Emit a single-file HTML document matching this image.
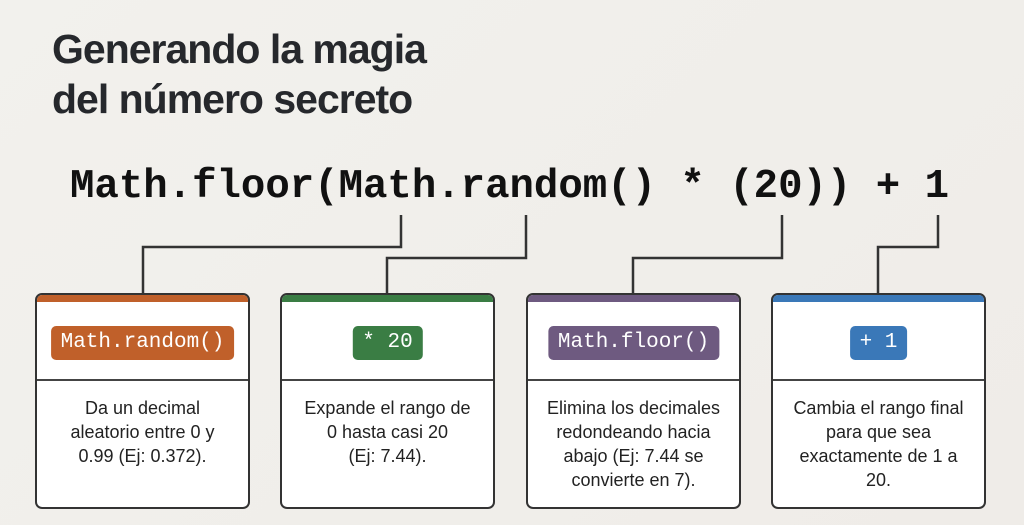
<!DOCTYPE html>
<html><head><meta charset="utf-8"><style>
*{margin:0;padding:0;box-sizing:border-box}
body{width:1024px;height:525px;overflow:hidden;background:linear-gradient(135deg,#f2f1ed,#efece8);font-family:"Liberation Sans",sans-serif;position:relative;color:#222}
.t{position:absolute;left:52px;top:24px;font-size:41px;font-weight:bold;line-height:50px;color:#26282c;letter-spacing:-1px}
.code{position:absolute;left:70px;top:160px;font-family:"Liberation Mono",monospace;font-weight:bold;font-size:40.7px;color:#111;white-space:pre;line-height:54px}
.box{position:absolute;top:293px;width:215px;height:216px;background:#fff;border:2px solid #333;border-radius:7px;overflow:hidden}
.band{height:7px}
.badge{position:absolute;top:31px;left:50%;transform:translateX(-50%);height:34px;padding:0 10px;border-radius:5px;color:#fff;font-family:"Liberation Mono",monospace;font-size:21px;line-height:34px;white-space:pre}
.div{position:absolute;top:84px;left:0;right:0;border-top:2px solid #444}
.txt{position:absolute;top:101px;left:4px;right:4px;text-align:center;font-size:18px;line-height:24px;color:#222}
</style></head><body>
<div class="t">Generando la magia<br>del número secreto</div>
<div class="code">Math.floor(Math.random() * (20)) + 1</div>
<svg width="1024" height="525" style="position:absolute;left:0;top:0" fill="none" stroke="#333" stroke-width="2.5">
<polyline points="401,215 401,247 143,247 143,293"/>
<polyline points="526,215 526,258 387,258 387,293"/>
<polyline points="782,215 782,258 633,258 633,293"/>
<polyline points="938,215 938,247 878,247 878,293"/>
</svg>
<div class="box" style="left:35px"><div class="band" style="background:#c0602a"></div><div class="badge" style="background:#c0602a">Math.random()</div><div class="div"></div><div class="txt">Da un decimal<br>aleatorio entre 0 y<br>0.99 (Ej: 0.372).</div></div>
<div class="box" style="left:280px"><div class="band" style="background:#3a7d44"></div><div class="badge" style="background:#3a7d44">* 20</div><div class="div"></div><div class="txt">Expande el rango de<br>0 hasta casi 20<br>(Ej: 7.44).</div></div>
<div class="box" style="left:526px"><div class="band" style="background:#6e5a80"></div><div class="badge" style="background:#6e5a80">Math.floor()</div><div class="div"></div><div class="txt">Elimina los decimales<br>redondeando hacia<br>abajo (Ej: 7.44 se<br>convierte en 7).</div></div>
<div class="box" style="left:771px"><div class="band" style="background:#3a78b8"></div><div class="badge" style="background:#3a78b8">+ 1</div><div class="div"></div><div class="txt">Cambia el rango final<br>para que sea<br>exactamente de 1 a<br>20.</div></div>
</body></html>
